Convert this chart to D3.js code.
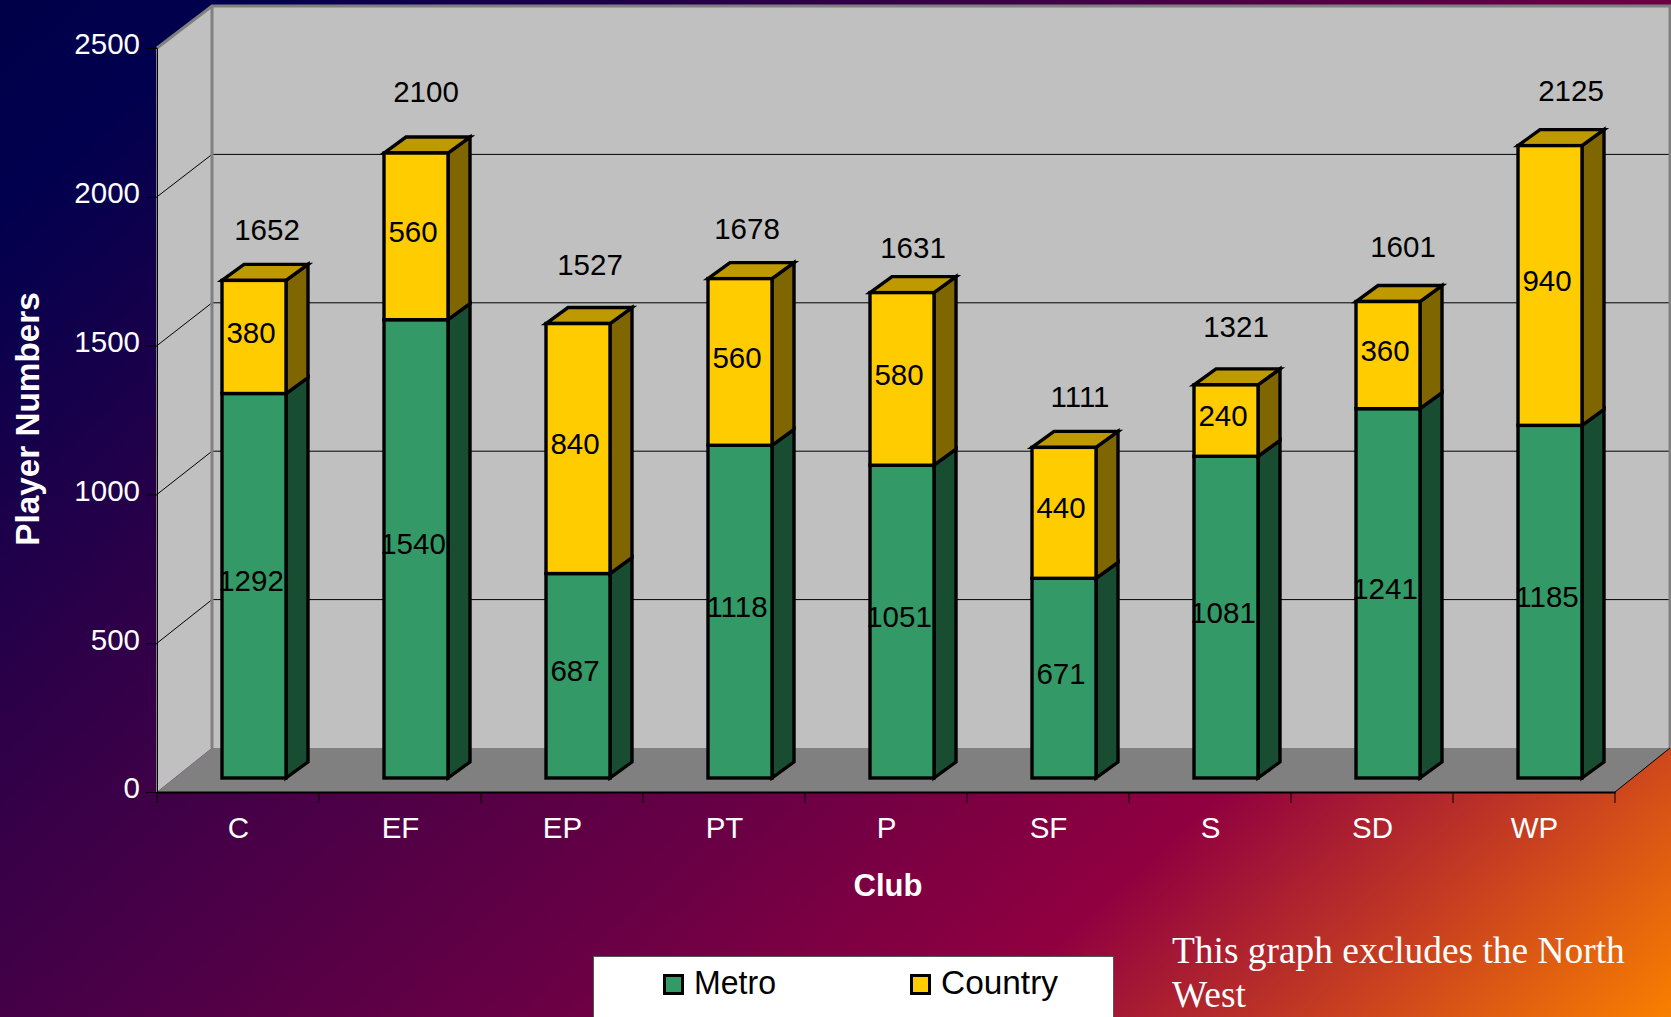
<!DOCTYPE html>
<html><head><meta charset="utf-8">
<style>html,body{margin:0;padding:0;background:#000;overflow:hidden}svg{display:block}text{font-family:"Liberation Sans",Arial,sans-serif}</style>
<script src="https://cdn.jsdelivr.net/npm/d3@7/dist/d3.min.js"></script>
</head><body><div id="chart"></div>
<script>
const clubs = ["C","EF","EP","PT","P","SF","S","SD","WP"];
const metro = [1292,1540,687,1118,1051,671,1081,1241,1185];
const country = [380,560,840,560,580,440,240,360,940];
const totals = [1652,2100,1527,1678,1631,1111,1321,1601,2125];
const seriesNames = ["Metro","Country"];
const yTicks = [0,500,1000,1500,2000,2500];

// layout only
const W=1671,H=1017;
const totalDx=[13,10,12,7,11,16,10,15,21], totalDy=[-51,-61.5,-59,-50.5,-45.5,-51,-58,-55,-55];
const barShift=-14, depth={dx:22,dy:-16}, barInset=65, barW=64, wallDx=55;
const colors={Metro:{front:"#339966",side:"#184d32"},Country:{front:"#ffcc00",side:"#806600",top:"#bf9900"}};

const svg=d3.select("#chart").append("svg").attr("width",W).attr("height",H);
const defs=svg.append("defs");
const g=defs.append("linearGradient").attr("id","bg").attr("gradientUnits","userSpaceOnUse")
 .attr("x1",0).attr("y1",0).attr("x2",1266).attr("y2",1386);
[[0,"#000048"],[.08,"#00004e"],[.3,"#300048"],[.58,"#680045"],[.75,"#900040"],[.88,"#c84020"],[1,"#f88000"]]
 .forEach(s=>g.append("stop").attr("offset",s[0]).attr("stop-color",s[1]));
svg.append("rect").attr("width",W).attr("height",H).attr("fill","url(#bg)");

const x=d3.scaleBand().domain(clubs).range([157,1615]);
const y=d3.scaleLinear().domain([0,2500]).range([792,48]);
const backShift=d3.scaleLinear().domain([0,2500]).range([-44,-42]);
const line=d3.line();
const [x0,x1]=x.range();
const back=v=>y(v)+backShift(v);

// walls and floor
svg.append("path").attr("d",line([[x0,y(0)],[x0,y(2500)],[x0+wallDx,back(2500)],[x0+wallDx,back(0)]])+"Z").attr("fill","#c0c0c0");
svg.append("rect").attr("x",x0+wallDx).attr("y",back(2500)).attr("width",x1-x0).attr("height",back(0)-back(2500)).attr("fill","#c0c0c0");
svg.append("path").attr("d",line([[x0,y(0)],[x1,y(0)],[x1+wallDx,back(0)],[x0+wallDx,back(0)]])+"Z").attr("fill","#808080");

// gridlines
const grid=svg.append("g").attr("fill","none").attr("stroke","#000").attr("stroke-width",1);
yTicks.filter(v=>v>0&&v<2500).forEach(v=>{
 grid.append("path").attr("d",line([[x0,y(v)],[x0+wallDx,back(v)],[x1+wallDx,back(v)]]));
});
const edge=svg.append("g").attr("fill","none").attr("stroke","#808080").attr("stroke-width",3);
edge.append("path").attr("d",line([[x0,y(2500)],[x0+wallDx,back(2500)],[x1+wallDx,back(2500)],[x1+wallDx,back(0)]]));
edge.append("path").attr("d",line([[x0+wallDx,back(2500)],[x0+wallDx,back(0)]]));
svg.append("path").attr("d",line([[x1,y(0)],[x1+wallDx,back(0)]])).attr("stroke","#000").attr("fill","none");
svg.append("path").attr("d",line([[x0,y(0)],[x0,y(2500)]])).attr("stroke","#808080").attr("stroke-width",2).attr("fill","none");

// axes
const axL=svg.append("g").attr("transform",`translate(${x0},0)`).call(d3.axisLeft(y).tickValues(yTicks).tickSize(11).tickPadding(6).tickFormat(d3.format("d")));
const axB=svg.append("g").attr("transform",`translate(0,${y(0)})`).call(d3.axisBottom(x).tickSize(0).tickPadding(25));
svg.append("g").attr("stroke","#000").selectAll("line").data(d3.range(clubs.length+1)).join("line")
 .attr("x1",i=>x0+i*x.bandwidth()).attr("x2",i=>x0+i*x.bandwidth()).attr("y1",y(0)).attr("y2",y(0)+11);
[axL,axB].forEach(a=>{a.selectAll("text").attr("fill","#fff").attr("font-size",29.5).attr("font-family",'"Liberation Sans"');a.selectAll(".domain").attr("stroke","#000").attr("stroke-width",a===axB?2:1);a.selectAll("line").attr("stroke","#000");});
axL.selectAll("text").attr("dy","0.2em");
axB.selectAll("text").attr("dx",0.5);

// bars
const stack=d3.stack().keys(seriesNames);
const rows=clubs.map((c,i)=>({club:c,Metro:metro[i],Country:country[i]}));
const layers=stack(rows);
const bars=svg.append("g").attr("stroke","#000").attr("stroke-width",3.4).attr("stroke-linejoin","miter");
clubs.forEach((c,i)=>{
 const bx=x(c)+barInset;
 layers.forEach(l=>{
  const [v0,v1]=l[i];
  const yb=y(v0)+barShift, yt=y(v1)+barShift, col=colors[l.key];
  bars.append("path").attr("fill",col.side).attr("d",line([[bx+barW,yb],[bx+barW+depth.dx,yb+depth.dy],[bx+barW+depth.dx,yt+depth.dy],[bx+barW,yt]])+"Z");
  if(col.top) bars.append("path").attr("fill",col.top).attr("d",line([[bx,yt],[bx+depth.dx,yt+depth.dy],[bx+barW+depth.dx,yt+depth.dy],[bx+barW,yt]])+"Z");
  bars.append("rect").attr("fill",col.front).attr("x",bx).attr("y",yt).attr("width",barW).attr("height",yb-yt);
 });
});

// data labels
const lab=svg.append("g").attr("fill","#000").attr("font-size",29.5).attr("text-anchor","middle");
clubs.forEach((c,i)=>{
 const cx=x(c)+barInset+barW/2;
 layers.forEach(l=>{
  const [v0,v1]=l[i];
  lab.append("text").attr("x",cx-3).attr("y",(y(v0)+y(v1))/2+barShift-5).attr("dy","0.36em").text(v1-v0);
 });
 lab.append("text").attr("x",cx+totalDx[i]).attr("y",y(layers[1][i][1])+barShift+totalDy[i]).attr("dy","0.36em").text(totals[i]);
});

// titles
svg.append("text").attr("x",888).attr("y",896).attr("text-anchor","middle").attr("fill","#fff").attr("font-weight","bold").attr("font-size",31).text("Club");
svg.append("text").attr("transform","translate(39,419) rotate(-90)").attr("text-anchor","middle").attr("fill","#fff").attr("font-weight","bold").attr("font-size",33.3).text("Player Numbers");

// legend
const leg=svg.append("g");
leg.append("rect").attr("x",593.5).attr("y",956.5).attr("width",520).attr("height",80).attr("fill","#fff").attr("stroke","#555");
const legendX=[663,910], legendLen=[82,117];
seriesNames.forEach((s,i)=>{
 leg.append("rect").attr("x",legendX[i]+1.5).attr("y",975.5).attr("width",18).attr("height",18).attr("fill",colors[s].front).attr("stroke","#000").attr("stroke-width",3);
 leg.append("text").attr("x",legendX[i]+31).attr("y",994).attr("font-size",33).attr("fill","#000").attr("textLength",legendLen[i]).attr("lengthAdjust","spacingAndGlyphs").text(s);
});

// note
const note=svg.append("g").attr("fill","#fff").attr("font-size",37.4);
["This graph excludes the North","West"].forEach((t,i)=>note.append("text").attr("x",1172).attr("y",963+i*44).style("font-family",'"Liberation Serif"').text(t));
</script></body></html>
